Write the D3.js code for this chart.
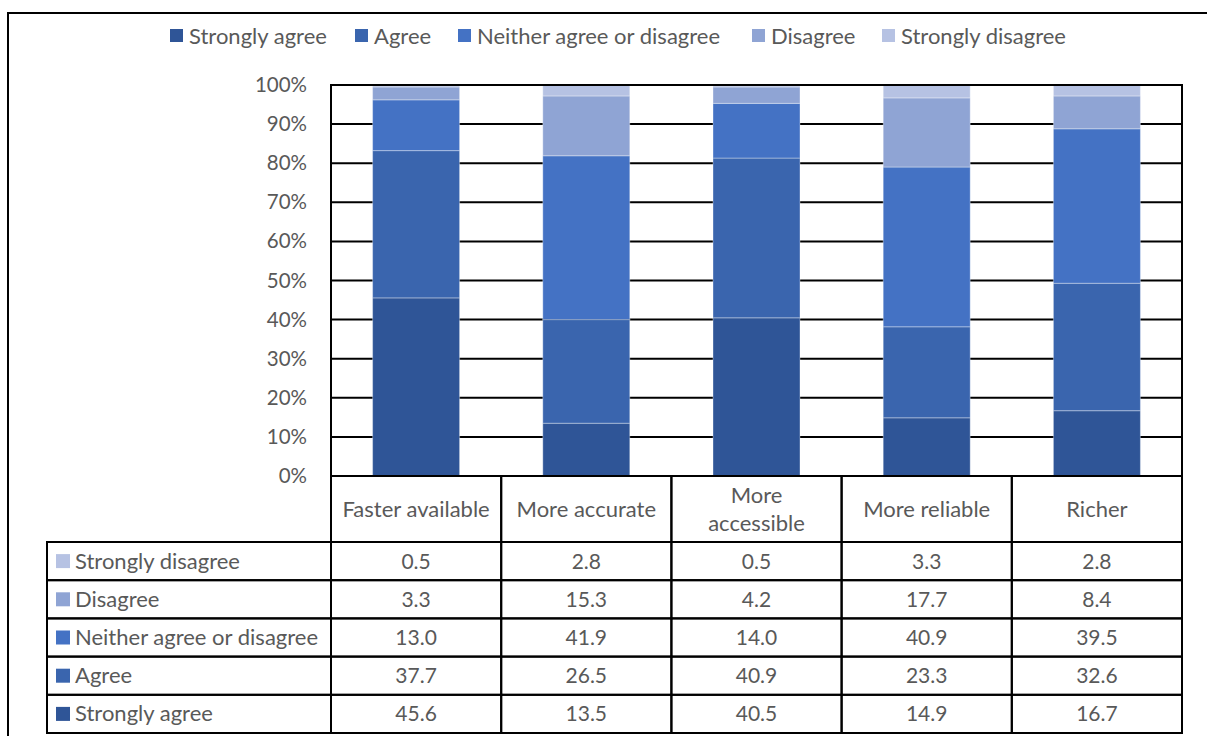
<!DOCTYPE html>
<html><head><meta charset="utf-8">
<script src="https://cdn.jsdelivr.net/npm/d3@7"></script>
<style>
body{margin:0;background:#fff;}
svg text{font-family:Lato,"Open Sans",sans-serif;fill:#595959;}
</style></head>
<body><svg id="c" width="1207" height="736"></svg>
<script>
const categories = ["Faster available","More accurate","More accessible","More reliable","Richer"];
const categoryLines = [["Faster available"],["More accurate"],["More","accessible"],["More reliable"],["Richer"]];
const seriesNames = ["Strongly agree","Agree","Neither agree or disagree","Disagree","Strongly disagree"];
const stronglyAgree = [45.6,13.5,40.5,14.9,16.7];
const agree = [37.7,26.5,40.9,23.3,32.6];
const neither = [13.0,41.9,14.0,40.9,39.5];
const disagree = [3.3,15.3,4.2,17.7,8.4];
const stronglyDisagree = [0.5,2.8,0.5,3.3,2.8];
const yTicks = [0,10,20,30,40,50,60,70,80,90,100];
const colors = ["#2f5597","#3a65ae","#4472c4","#8fa4d4","#b6c2e3"];

const seriesValues = [stronglyAgree, agree, neither, disagree, stronglyDisagree];
const svg = d3.select("#c");

// outer chart border
svg.append("rect").attr("x",8).attr("y",13).attr("width",1230).attr("height",760)
  .attr("fill","none").attr("stroke","#000").attr("stroke-width",2);

const plotL = 331, plotR = 1182, plotT = 85, plotB = 476;
const x = d3.scaleBand().domain(categories).range([plotL, plotR]).paddingInner(0).paddingOuter(0);
const y = d3.scaleLinear().domain([0,100]).range([plotB, plotT]);

// percentages (100% stacked)
const rows = categories.map((c,i)=>{
  const o = {cat:c};
  const tot = d3.sum(seriesValues, s=>s[i]);
  seriesNames.forEach((n,j)=>o[n]=seriesValues[j][i]/tot*100);
  return o;
});
const stack = d3.stack().keys(seriesNames)(rows);

// gridlines
svg.append("g").selectAll("line").data(yTicks).join("line")
  .attr("x1",plotL).attr("x2",plotR).attr("y1",d=>y(d)).attr("y2",d=>y(d))
  .attr("stroke","#000").attr("stroke-width",2);

// bars
const barW = 87;
stack.forEach((layer,j)=>{
  svg.append("g").selectAll("rect").data(layer).join("rect")
    .attr("x",d=>x(d.data.cat)+x.bandwidth()/2-barW/2)
    .attr("width",barW)
    .attr("y",d=>y(d[1]))
    .attr("height",d=>Math.max(0,y(d[0])-y(d[1])))
    .attr("fill",colors[j])
    .attr("stroke","rgba(255,255,255,0.35)").attr("stroke-width",1);
});

// plot border (left, top, right)
svg.append("path").attr("d",`M${plotL},${plotB}V${plotT}H${plotR}V${plotB}`)
  .attr("fill","none").attr("stroke","#000").attr("stroke-width",2);

// y axis labels
const yAxis = d3.axisLeft(y).tickValues(yTicks).tickFormat(d=>d+"%").tickSize(0).tickPadding(24);
const yg = svg.append("g").attr("transform",`translate(${plotL},0)`).call(yAxis);
yg.select(".domain").remove();
yg.selectAll("text").attr("font-size",20.5).style("font-family","Lato,sans-serif").attr("fill","#595959");

// table
const headB = 542, rowH = 38.2, tableL = 47;
const tableRows = seriesNames.slice().reverse();
const rowVals = seriesValues.slice().reverse();
const rowCols = colors.slice().reverse();
const g = svg.append("g");
// header cells
categories.forEach((c,i)=>{
  g.append("rect").attr("x",x(c)).attr("y",plotB).attr("width",x.bandwidth()).attr("height",headB-plotB)
    .attr("fill","none").attr("stroke","#000").attr("stroke-width",2);
  const lines = categoryLines[i];
  lines.forEach((ln,k)=>{
    g.append("text").attr("x",x(c)+x.bandwidth()/2)
      .attr("y",(plotB+headB)/2 - 1 + (k-(lines.length-1)/2)*28)
      .attr("text-anchor","middle").attr("dominant-baseline","central")
      .attr("font-size",22).text(ln);
  });
});
tableRows.forEach((name,r)=>{
  const ry = headB + r*rowH;
  g.append("rect").attr("x",tableL).attr("y",ry).attr("width",plotL-tableL).attr("height",rowH)
    .attr("fill","none").attr("stroke","#000").attr("stroke-width",2);
  g.append("rect").attr("x",56).attr("y",ry+rowH/2-7).attr("width",14).attr("height",14).attr("fill",rowCols[r]);
  g.append("text").attr("x",75).attr("y",ry+rowH/2-1).attr("dominant-baseline","central")
    .attr("font-size",22).text(name);
  categories.forEach((c,i)=>{
    g.append("rect").attr("x",x(c)).attr("y",ry).attr("width",x.bandwidth()).attr("height",rowH)
      .attr("fill","none").attr("stroke","#000").attr("stroke-width",2);
    g.append("text").attr("x",x(c)+x.bandwidth()/2).attr("y",ry+rowH/2-1)
      .attr("text-anchor","middle").attr("dominant-baseline","central")
      .attr("font-size",21).text(rowVals[r][i].toFixed(1));
  });
});

// legend
const legendX = [170,355,458,752,882];
seriesNames.forEach((n,j)=>{
  svg.append("rect").attr("x",legendX[j]).attr("y",29).attr("width",13).attr("height",13).attr("fill",colors[j]);
  svg.append("text").attr("x",legendX[j]+19).attr("y",35).attr("dominant-baseline","central")
    .attr("font-size",22).text(n);
});
</script></body></html>
